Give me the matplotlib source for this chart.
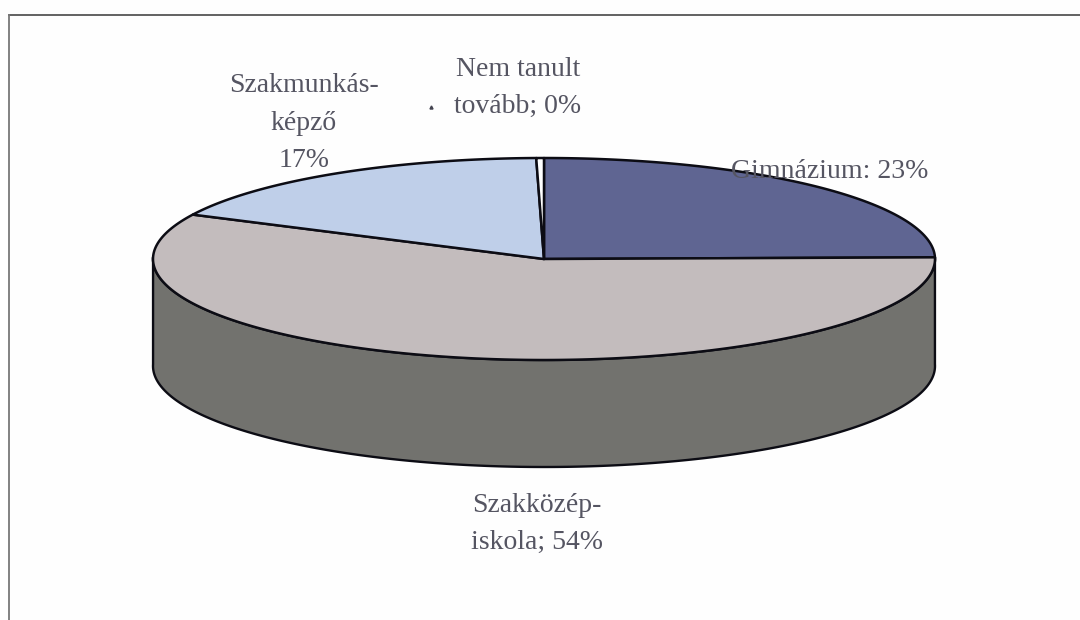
import numpy as np
import matplotlib
matplotlib.use("Agg")
import matplotlib.pyplot as plt

categories = ["Gimnázium", "Szakközép-iskola", "Szakmunkás-képző", "Nem tanult tovább"]
values = [23.4, 54.4, 16.5, 0.3]
slice_colors = ["#5f6592", "#c3bcbd", "#bfcfe9", "#ffffff"]
label_texts = ["Gimnázium: 23%", "Szakközép-\niskola; 54%", "Szakmunkás-\nképző\n17%", "Nem tanult\ntovább; 0%"]
label_xy = [(830, 172), (537, 524), (304, 123), (518, 88)]

CX, CY, RX, RY, DEPTH = 544, 259, 391, 101, 107
WALL = "#72726e"
TEXT = "#555562"
LINE = "#0c0c14"

plt.rcParams["font.family"] = ["Liberation Serif", "DejaVu Serif"]
fig = plt.figure(figsize=(10.8, 6.2), dpi=100, facecolor="#fefefe")
ax = fig.add_axes([0, 0, 1, 1])
ax.set_xlim(0, 1080)
ax.set_ylim(620, 0)
ax.axis("off")

# scanned frame: top and left rules only
ax.plot([8.5, 1080], [15, 15], color="#555555", lw=1.3, zorder=1)
ax.plot([8.5, 8.5], [15, 620], color="#777777", lw=1.3, zorder=1)
ax.plot([430.5], [107], marker="^", ms=2.2, color="#444450", zorder=2)


def ell(a, dy=0.0):
    return CX + RX * np.cos(a), CY + dy - RY * np.sin(a)


# side wall (front half of the disc)
t = np.linspace(np.radians(1), np.radians(-181), 400)
xt, yt = ell(t)
xb, yb = ell(t, DEPTH)
ax.fill(np.r_[xt, xb[::-1]], np.r_[yt, yb[::-1]], facecolor=WALL, edgecolor=LINE, lw=1.7, zorder=3)

# top face, clockwise from 12 o'clock
angles = 90 - np.r_[0, np.cumsum(values)] / np.sum(values) * 360
for i, c in enumerate(slice_colors):
    a = np.radians(np.linspace(angles[i], angles[i + 1], 200))
    x, y = ell(a)
    ax.fill(np.r_[CX, x], np.r_[CY, y], facecolor=c, edgecolor=LINE, lw=1.8,
            joinstyle="round", zorder=4)

for s, (x, y) in zip(label_texts, label_xy):
    ax.text(x, y, s, ha="center", va="center", fontsize=20, color=TEXT,
            linespacing=1.66, zorder=6)

fig.savefig("out.png", dpi=100, facecolor=fig.get_facecolor())
